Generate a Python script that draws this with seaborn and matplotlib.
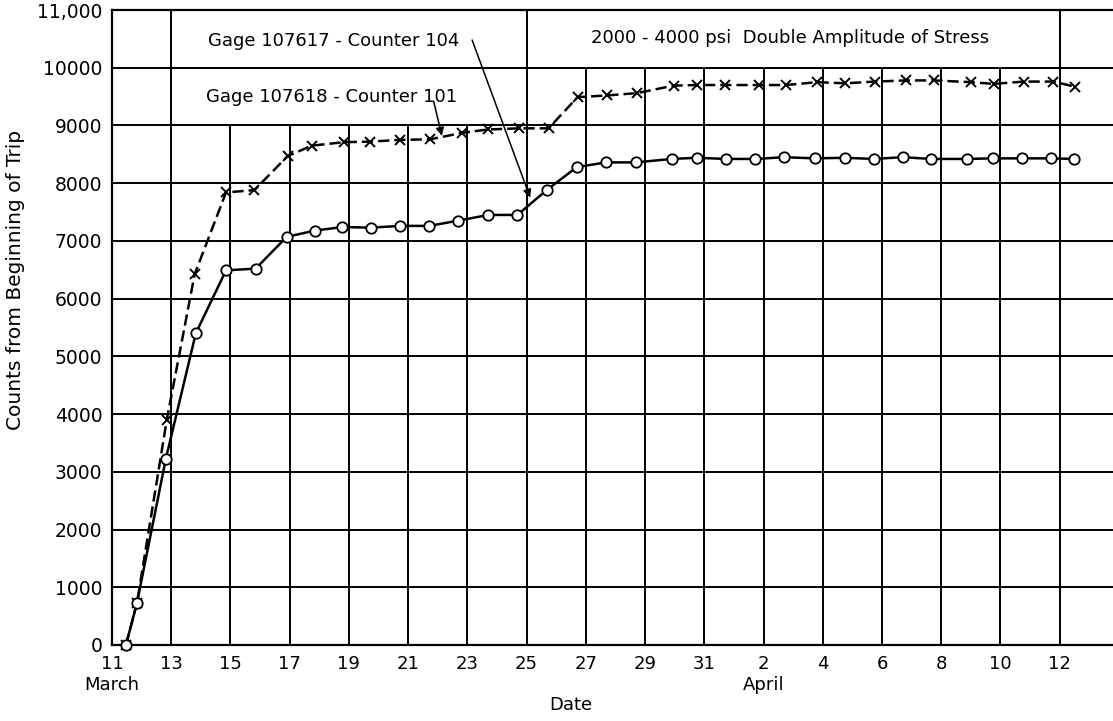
import numpy as np
import pandas as pd
import matplotlib
matplotlib.use('Agg')
import matplotlib.pyplot as plt
from matplotlib.patches import Rectangle
import seaborn as sns

# days counted from 1 March (April 1 = 32); readings taken roughly each evening
gage_617_day = [11.47, 11.84, 12.82, 13.83, 14.85, 15.85, 16.9, 17.86, 18.78, 19.75,
                20.73, 21.71, 22.68, 23.71, 24.69, 25.7, 26.7, 27.69, 28.69, 29.9,
                30.75, 31.74, 32.72, 33.7, 34.73, 35.74, 36.72, 37.7, 38.67, 39.87,
                40.75, 41.73, 42.72, 43.48]
gage_617_counts = [0, 720, 3230, 5400, 6490, 6520, 7070, 7180, 7240, 7230,
                   7260, 7260, 7350, 7450, 7450, 7890, 8280, 8360, 8360, 8420,
                   8440, 8420, 8420, 8450, 8430, 8440, 8420, 8450, 8420, 8420,
                   8430, 8430, 8430, 8420]

gage_618_day = [11.47, 11.84, 12.85, 13.79, 14.85, 15.81, 16.93, 17.75, 18.82, 19.72,
                20.71, 21.74, 22.81, 23.68, 24.73, 25.74, 26.72, 27.71, 28.73, 29.96,
                30.77, 31.71, 32.83, 33.77, 34.8, 35.76, 36.78, 37.8, 38.77, 39.99,
                40.77, 41.79, 42.78, 43.53]
gage_618_counts = [0, 720, 3900, 6420, 7840, 7880, 8470, 8650, 8710, 8720,
                   8750, 8760, 8870, 8930, 8950, 8950, 9490, 9520, 9560, 9690,
                   9700, 9700, 9700, 9700, 9750, 9730, 9760, 9780, 9780, 9750,
                   9720, 9760, 9760, 9670]

tick_days = list(range(11, 44, 2))
tick_labels = ['11\nMarch', '13', '15', '17', '19', '21', '23', '25', '27', '29', '31',
               '2\nApril', '4', '6', '8', '10', '12']
y_ticks = list(range(0, 11001, 1000))
y_labels = ['0', '1000', '2000', '3000', '4000', '5000', '6000', '7000', '8000',
            '9000', '10000', '11,000']

sns.set_style('white')
plt.rcParams['font.family'] = ['DejaVu Sans']
plt.rcParams['text.color'] = 'black'
plt.rcParams['axes.labelcolor'] = 'black'
plt.rcParams['xtick.color'] = 'black'
plt.rcParams['ytick.color'] = 'black'

df617 = pd.DataFrame({'day': gage_617_day, 'counts': gage_617_counts})
df618 = pd.DataFrame({'day': gage_618_day, 'counts': gage_618_counts})

fig = plt.figure(figsize=(11.13, 7.21), dpi=100)
ax = fig.add_axes([112 / 1113, 76 / 721, 1001 / 1113, 635 / 721])

# dashed X series first so the open circles sit on top where they overlap
sns.lineplot(data=df618, x='day', y='counts', ax=ax, color='black', linewidth=1.8,
             linestyle=(0, (4.5, 2)), marker='x', markersize=7,
             markeredgecolor='black', markeredgewidth=1.4, zorder=3, clip_on=False)
sns.lineplot(data=df617, x='day', y='counts', ax=ax, color='black', linewidth=1.8,
             marker='o', markersize=7.5, markerfacecolor='white',
             markeredgecolor='black', markeredgewidth=1.3, zorder=4, clip_on=False)

ax.set_xlim(11, 44.8)
ax.set_ylim(0, 11000)
ax.set_xticks(tick_days)
ax.set_xticklabels(tick_labels, fontsize=13, color='black')
ax.set_yticks(y_ticks)
ax.set_yticklabels(y_labels, fontsize=13.5, color='black')
ax.tick_params(length=0, pad=7)

ax.set_axisbelow(True)
ax.grid(True, color='black', linewidth=1.4)
for side in ['left', 'bottom', 'top']:
    ax.spines[side].set_color('black')
    ax.spines[side].set_linewidth(1.6)
ax.spines['right'].set_visible(False)

# label boxes that blank out the grid
ax.add_patch(Rectangle((13, 9000), 12, 1000, facecolor='white', edgecolor='black', lw=1.4, zorder=1))
ax.add_patch(Rectangle((13, 10000), 12, 1000, facecolor='white', edgecolor='black', lw=1.4, zorder=1))
ax.add_patch(Rectangle((25, 10000), 18, 1000, facecolor='white', edgecolor='black', lw=1.4, zorder=1))

ax.text(18.47, 10460, 'Gage 107617 - Counter 104', fontsize=13, ha='center', va='center',
        color='black', zorder=5)
ax.text(18.4, 9500, 'Gage 107618 - Counter 101', fontsize=13, ha='center', va='center',
        color='black', zorder=5)
ax.text(33.9, 10520, '2000 - 4000 psi  Double Amplitude of Stress', fontsize=13,
        ha='center', va='center', color='black', zorder=5)

arrow = dict(arrowstyle='-|>', color='black', lw=1.1, mutation_scale=12, shrinkA=0, shrinkB=0)
ax.annotate('', xy=(25.12, 7750), xytext=(23.16, 10480), arrowprops=arrow, zorder=5)
ax.annotate('', xy=(22.14, 8820), xytext=(21.86, 9420), arrowprops=arrow, zorder=5)

ax.set_xlabel('Date', fontsize=13, color='black')
ax.xaxis.set_label_coords(0.458, -0.08)
ax.set_ylabel('Counts from Beginning of Trip', fontsize=14.5, color='black')
ax.yaxis.set_label_coords(-0.087, 0.575)

fig.savefig('out.png', dpi=100)
